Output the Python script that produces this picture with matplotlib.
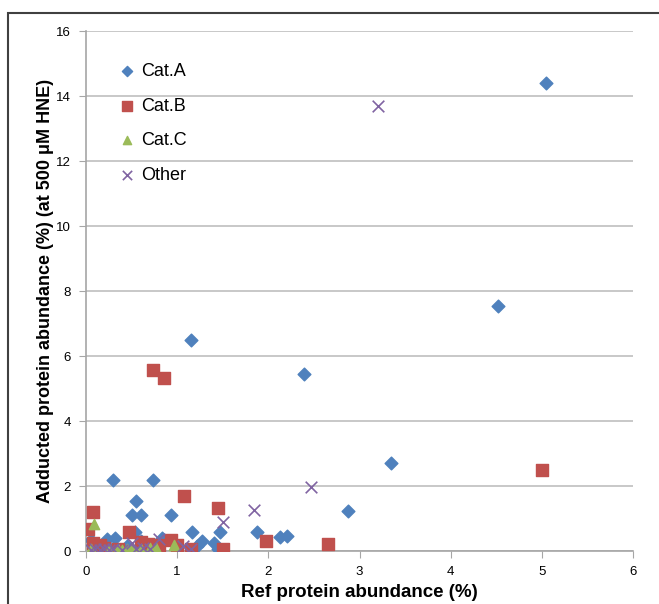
import matplotlib
matplotlib.use("Agg")
import matplotlib.pyplot as plt
from matplotlib.patches import Rectangle

plt.rcParams["font.family"] = ["Liberation Sans Narrow", "Liberation Sans", "DejaVu Sans"]

# Data (x = ref abundance %, y = adducted abundance %)
cat_a_x = [5.05, 4.52, 1.15, 2.39, 3.35, 2.87, 0.30, 0.73, 0.55, 0.50, 0.60, 0.93,
           1.88, 2.13, 2.20, 1.47, 1.40, 1.45, 1.16, 1.27, 1.22, 0.54, 0.23, 0.32,
           0.05, 0.45, 0.70, 0.83, 1.00, 0.25, 0.12, 0.60]
cat_a_y = [14.4, 7.55, 6.50, 5.45, 2.72, 1.22, 2.20, 2.20, 1.55, 1.10, 1.10, 1.10,
           0.58, 0.42, 0.45, 0.58, 0.25, 0.05, 0.57, 0.32, 0.15, 0.60, 0.38, 0.40,
           0.35, 0.15, 0.10, 0.40, 0.10, 0.10, 0.20, 0.30]

cat_b_x = [5.00, 0.73, 0.86, 1.07, 1.45, 0.08, 0.02, 0.47, 1.97, 2.65, 1.50, 1.15,
           0.93, 0.60, 0.68, 0.80, 1.00, 0.08, 0.15, 0.20, 0.35]
cat_b_y = [2.48, 5.57, 5.33, 1.68, 1.33, 1.20, 0.68, 0.57, 0.32, 0.22, 0.05, 0.06,
           0.35, 0.28, 0.22, 0.20, 0.20, 0.25, 0.20, 0.10, 0.05]

cat_c_x = [0.09, 0.97, 0.45, 0.50, 0.60, 0.70, 0.77, 0.35, 0.25, 0.05, 0.40]
cat_c_y = [0.82, 0.18, 0.05, 0.10, 0.05, 0.10, 0.10, 0.05, 0.02, 0.05, 0.03]

other_x = [3.20, 2.47, 1.84, 1.50, 0.80, 1.06, 1.15, 0.05, 0.10, 0.15, 0.20, 0.25,
           0.30, 0.40, 0.55, 0.62, 0.70, 0.50]
other_y = [13.70, 1.98, 1.27, 0.88, 0.38, 0.14, 0.05, 0.02, 0.05, 0.02, 0.05, 0.02,
           0.05, 0.02, 0.05, 0.10, 0.05, 0.25]

fig = plt.figure(figsize=(6.59, 6.04), dpi=100)
ax = fig.add_axes([86 / 659, 1 - 551 / 604, 547 / 659, 520 / 604])

ax.scatter(cat_a_x, cat_a_y, marker="D", s=42, color="#4F81BD", label="Cat.A", zorder=3)
ax.scatter(cat_b_x, cat_b_y, marker="s", s=72, color="#C0504D", label="Cat.B", zorder=3)
ax.scatter(cat_c_x, cat_c_y, marker="^", s=55, color="#9BBB59", label="Cat.C", zorder=3)
ax.scatter(other_x, other_y, marker="x", s=70, color="#8064A2", linewidths=1.2,
           label="Other", zorder=3)

ax.set_xlim(0, 6)
ax.set_ylim(0, 16)
ax.set_xticks(range(0, 7))
ax.set_yticks(range(0, 17, 2))
ax.grid(axis="y", color="#BFBFBF", linewidth=1.2)
ax.set_axisbelow(True)
for s in ["top", "right"]:
    ax.spines[s].set_visible(False)
for s in ["left", "bottom"]:
    ax.spines[s].set_color("#A6A6A6")
    ax.spines[s].set_linewidth(1.2)
ax.tick_params(direction="out", length=5, color="#A6A6A6", labelsize=9.5, pad=6)

ax.set_xlabel("Ref protein abundance (%)", fontsize=13.5, fontweight="bold", labelpad=4)
ax.set_ylabel("Adducted protein abundance (%) (at 500 μM HNE)", fontsize=13,
              fontweight="bold", labelpad=1)

leg = ax.legend(loc="upper left", bbox_to_anchor=(0.025, 0.97), frameon=False,
                fontsize=13, labelspacing=0.98, handletextpad=0.2, handlelength=1.2,
                markerscale=0.8)

# outer chart border (only top and left edges visible in the crop)
fig.patches.append(Rectangle((8 / 659, -0.1), 1.2, 1.078, transform=fig.transFigure,
                             fill=False, edgecolor="#404040", linewidth=1.5))

fig.savefig("out.png", dpi=100)
